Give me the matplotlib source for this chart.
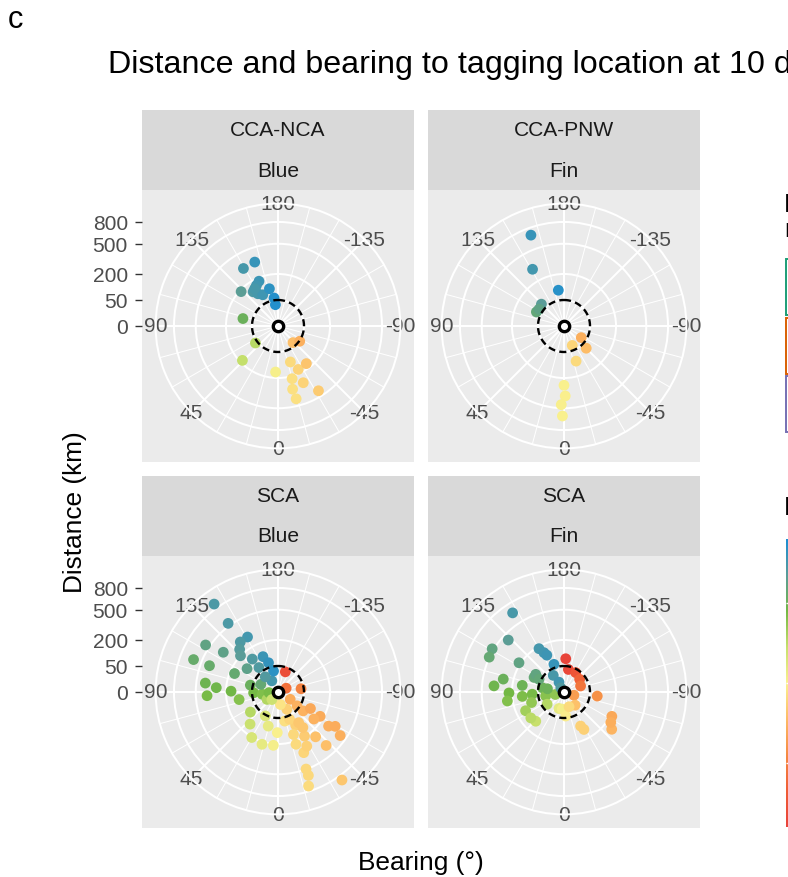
import numpy as np
import matplotlib
matplotlib.use("Agg")
import matplotlib.pyplot as plt
from matplotlib.colors import LinearSegmentedColormap, Normalize
from matplotlib.patches import Rectangle
import matplotlib.colorbar as mcolorbar

plt.rcParams['font.family'] = ['Liberation Sans', 'DejaVu Sans']

# ---- facet labels -------------------------------------------------------
regions = ["CCA-NCA", "CCA-PNW", "SCA", "SCA"]
species = ["Blue", "Fin", "Blue", "Fin"]

# ---- bearing (deg) and distance (km) to tagging location after 10 days --
ccanca_blue_bearing = [160, 149, 157, 152, 133, 144, 148, 154, 167, 172, 173, 148, 102,
                       53, 46, 3, -19, -25, -37, -15, -24, -13, -14, -32, -42, -55]
ccanca_blue_dist = [342, 333, 175, 156, 188, 132, 107, 89, 108, 59, 34, 143, 95,
                    59, 181, 157, 107, 170, 164, 220, 285, 311, 416, 431, 37, 52]

ccapnw_fin_bearing = [160, 151, 171, 134, 117, 124, -56, -23, -45, -19, 0, -1, 2, 1]
ccapnw_fin_dist = [691, 311, 97, 73, 71, 67, 32, 33, 73, 102, 260, 362, 458, 599]

sca_blue_bearing = [144, 144, 151, 143, 123, 126, 111, 138, 134, 142, 157, 162, 142, 127,
                    113, 111, 97, 94, 87, 91, 79, 104, 88, 82, 56, 114, 151, 168, 140,
                    54, 41, 28, 16, 30, 17, 5, 1, -13, -160, -115, -98, -59, -54, -53,
                    -63, -60, -56, -59, -55, -42, -40, -31, -28, -35, -20, -19, -23, -28,
                    -20, -20, -18, -36, -27, -11, -23, -34, -53, 86, 39]
sca_blue_dist = [873, 532, 292, 290, 551, 338, 605, 243, 201, 129, 109, 70, 71, 111,
                 165, 398, 396, 283, 373, 163, 116, 60, 44, 19, 13, 26, 12, 34, 29,
                 86, 134, 54, 93, 204, 221, 212, 122, 66, 34, 6, 40, 15, 41, 73,
                 98, 175, 275, 329, 426, 383, 253, 196, 104, 139, 151, 226, 321, 278,
                 497, 583, 723, 875, 28, 12, 65, 101, 149, 6, 7]

sca_fin_bearing = [147, 133, 121, 115, 123, 150, 153, 155, 160, -177, -169, -149, -129,
                   -110, 147, 153, 116, 122, 102, 95, 89, 81, 99, 84, 86, 72, 64, 44,
                   52, 101, 78, 54, 74, 17, 6, -4, -72, -40, -19, -26, -28, -83, -63,
                   -52, -57, 117, 101, 142]
sca_fin_dist = [658, 429, 519, 503, 213, 185, 144, 122, 64, 82, 39, 38, 30,
                23, 29, 9, 82, 82, 285, 365, 224, 243, 132, 130, 75, 86, 135, 122,
                131, 36, 26, 32, 6, 22, 22, 43, 8, 22, 18, 106, 133, 83, 213,
                271, 230, 58, 21, 2]

panel_bearings = [ccanca_blue_bearing, ccapnw_fin_bearing, sca_blue_bearing, sca_fin_bearing]
panel_dists = [ccanca_blue_dist, ccapnw_fin_dist, sca_blue_dist, sca_fin_dist]

dist_breaks = [0, 50, 200, 500, 800]
bearing_breaks = [-135, -90, -45, 0, 45, 90, 135, 180]
home_radius_km = 50
legend_breaks = [-100, 0, 100]
group_colors = ["#1B9E77", "#D95F02", "#7570B3"]

# ---- bearing colour scale -----------------------------------------------
stop_bearings = [-180, -135, -90, -45, 0, 45, 90, 135, 180]
stop_colors = ["#e8423a", "#ef5d36", "#f58a42", "#fdbb66", "#faf08e",
               "#c6e06c", "#72b844", "#5a9c98", "#1b8ed3"]
cmap = LinearSegmentedColormap.from_list(
    "bearing", list(zip([(b + 180) / 360 for b in stop_bearings], stop_colors)))
norm = Normalize(-180, 180)

# ---- layout (pixels) ------------------------------------------------------
FW, FH = 788, 878
PANEL = 272
STRIP = 40
col_x = [142, 428]
row_y = [191, 557]

def box(x, y, w, h):
    return [x / FW, 1 - (y + h) / FH, w / FW, h / FH]

sqrt_fwd = lambda r: np.sqrt(np.clip(r, 0, None))
sqrt_inv = lambda r: np.square(r)
sym_fwd = lambda r: np.sign(r) * np.sqrt(np.abs(r))
sym_inv = lambda r: np.sign(r) * np.square(r)

r_data_max = max(max(d) for d in panel_dists)
r_outer = r_data_max * (0.45 / 0.4) ** 2
r_half = r_data_max * (0.5 / 0.4) ** 2

AX_TEXT = 15.1
AX_GREY = "#4D4D4D"
GRID_MAJ = 1.45
GRID_MIN = 0.72

fig = plt.figure(figsize=(FW / 100, FH / 100), dpi=100)

for i in range(4):
    r, c = divmod(i, 2)
    x0, y0 = col_x[c], row_y[r]

    # strips
    for k, lab in enumerate([regions[i], species[i]]):
        sax = fig.add_axes(box(x0, y0 - 2 * STRIP + k * STRIP, PANEL, STRIP))
        sax.set_facecolor("#D9D9D9")
        sax.set_xticks([]); sax.set_yticks([])
        for s in sax.spines.values():
            s.set_visible(False)
        sax.text(0.5, 0.5, lab, ha="center", va="center", fontsize=AX_TEXT,
                 color="#1A1A1A", transform=sax.transAxes)

    # panel background carrying the distance axis
    bg = fig.add_axes(box(x0, y0, PANEL, PANEL))
    bg.set_facecolor("#EBEBEB")
    for s in bg.spines.values():
        s.set_visible(False)
    bg.set_yscale("function", functions=(sym_fwd, sym_inv))
    bg.set_ylim(-r_half, r_half)
    bg.set_xlim(-1, 1)
    bg.set_xticks([])
    bg.yaxis.set_minor_locator(matplotlib.ticker.NullLocator())
    if c == 0:
        bg.set_yticks(dist_breaks)
        bg.set_yticklabels([str(b) for b in dist_breaks])
        bg.tick_params(axis="y", length=4.75, width=1.0, color="#333333",
                       labelsize=AX_TEXT, labelcolor=AX_GREY, pad=5.5)
    else:
        bg.set_yticks([])

    # polar panel
    rad = 0.45 * PANEL
    cx, cy = x0 + PANEL / 2, y0 + PANEL / 2
    ax = fig.add_axes(box(cx - rad, cy - rad, 2 * rad, 2 * rad), projection="polar")
    ax.patch.set_alpha(0)
    ax.set_theta_zero_location("S")
    ax.set_theta_direction(-1)
    ax.set_thetalim(-np.pi, np.pi)
    ax.set_rscale("function", functions=(sqrt_fwd, sqrt_inv))
    ax.set_ylim(0, r_outer)

    ax.set_xticks(np.deg2rad(np.arange(-180, 180, 45)))
    ax.set_xticks(np.deg2rad(np.arange(-180, 180, 15)), minor=True)
    ax.set_xticklabels([])
    ax.set_xticklabels([], minor=True)
    ax.set_yticks(dist_breaks[1:])
    ax.set_yticklabels([])
    ax.yaxis.set_minor_locator(matplotlib.ticker.NullLocator())
    ax.tick_params(which="both", length=0)
    ax.xaxis.grid(True, which="major", color="white", lw=GRID_MAJ)
    ax.xaxis.grid(True, which="minor", color="white", lw=GRID_MIN)
    ax.yaxis.grid(True, which="major", color="white", lw=GRID_MAJ)
    for name, sp in ax.spines.items():
        if name == "polar":
            sp.set_color("white")
            sp.set_linewidth(GRID_MAJ)
        else:
            sp.set_visible(False)
    ax.set_axisbelow(True)

    for b in bearing_breaks:
        ax.text(np.deg2rad(b), r_outer, str(b), ha="center", va="center",
                fontsize=AX_TEXT, color=AX_GREY, zorder=1, clip_on=False)

    bearing = np.asarray(panel_bearings[i], dtype=float)
    dist = np.asarray(panel_dists[i], dtype=float)
    ax.scatter(np.deg2rad(bearing), dist, c=bearing, cmap=cmap, norm=norm,
               s=60, linewidths=0, zorder=3)

    th = np.linspace(-np.pi, np.pi, 361)
    ax.plot(th, np.full_like(th, home_radius_km), color="black", lw=1.7,
            ls=(0, (3, 1.8)), zorder=4)
    ax.scatter([0], [0], s=56, facecolor="white", edgecolor="black",
               linewidths=2.4, zorder=5)

# ---- titles ----------------------------------------------------------------
fig.text(15 / FW, 1 - 20 / FH, "c", fontsize=22.2, ha="center", va="center")
fig.text(108 / FW, 1 - 73 / FH, "Distance and bearing to tagging location at 10 days",
         fontsize=23.2, ha="left", va="baseline")
fig.text(75 / FW, 1 - 512 / FH, "Distance (km)", fontsize=18.9, rotation=90,
         ha="center", va="center")
fig.text(421 / FW, 1 - 870 / FH, "Bearing (°)", fontsize=18.9, ha="center",
         va="baseline")

# ---- legends at the right edge ----------------------------------------------
fig.text(784 / FW, 1 - 193 / FH, "Deployment\nregion", fontsize=18.9,
         ha="left", va="top", linespacing=1.05)
key_tops = [260, 319, 377]
for col, top in zip(group_colors, key_tops):
    fig.add_artist(Rectangle((786 / FW, 1 - (top + 56) / FH), 30 / FW, 56 / FH,
                             transform=fig.transFigure, facecolor="white",
                             edgecolor=col, lw=1.4))

fig.text(784 / FW, 1 - 508 / FH, "Bearing (°)", fontsize=18.9,
         ha="left", va="center")
cax = fig.add_axes(box(785.5, 540, 30, 288))
cb = mcolorbar.ColorbarBase(cax, cmap=cmap, norm=norm, orientation="vertical")
cb.set_ticks(legend_breaks)
cb.outline.set_visible(False)
cax.tick_params(axis="y", direction="in", color="white", length=6, width=1,
                left=True, right=False, labelright=False, labelleft=False)

fig.savefig("out.png", dpi=100)
